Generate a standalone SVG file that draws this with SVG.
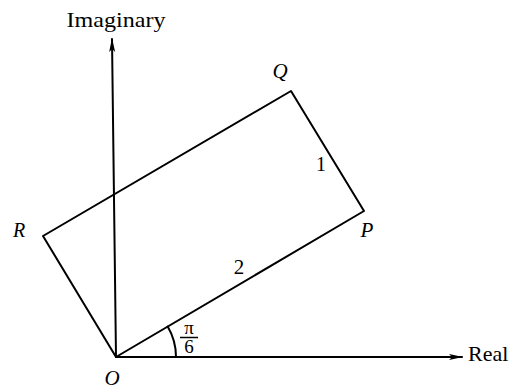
<svg xmlns="http://www.w3.org/2000/svg" width="515" height="390" viewBox="0 0 515 390">
<style>
.ln{stroke:#000;stroke-width:2;fill:none;stroke-linecap:round;stroke-linejoin:round}
.t{font-family:"Liberation Serif","Times New Roman",serif;fill:#000}
.it{font-style:italic}
</style>
<defs>
<marker id="ah" viewBox="0 0 14 8" refX="13" refY="4" markerWidth="14" markerHeight="8" markerUnits="userSpaceOnUse" orient="auto">
<path d="M0,1 L14,4 L0,7 L3,4 Z" fill="#000"/>
</marker>
</defs>
<rect width="515" height="390" fill="#fff"/>
<g id="connectors">
<line class="ln" x1="116" y1="357" x2="462" y2="357" marker-end="url(#ah)"/>
<line class="ln" x1="116" y1="357" x2="112" y2="39" marker-end="url(#ah)"/>
<path class="ln" d="M116,357 L364,211 L291,91 L43,236 Z"/>
<path class="ln" d="M167.7,326.5 A60,60 0 0 1 176,357"/>
</g>
<g id="axis-imaginary"><text class="t" x="116" y="27" font-size="22" text-anchor="middle" textLength="99" lengthAdjust="spacingAndGlyphs">Imaginary</text></g>
<g id="axis-real"><text class="t" x="468" y="361" font-size="22">Real</text></g>
<g id="node-O"><text class="t it" x="112" y="385" font-size="21" text-anchor="middle">O</text></g>
<g id="node-P"><text class="t it" x="367" y="237" font-size="21" text-anchor="middle">P</text></g>
<g id="node-Q"><text class="t it" x="280" y="78" font-size="21" text-anchor="middle">Q</text></g>
<g id="node-R"><text class="t it" x="19" y="237" font-size="20" text-anchor="middle">R</text></g>
<g id="label-1"><text class="t" x="321" y="171" font-size="20" text-anchor="middle">1</text></g>
<g id="label-2"><text class="t" x="239" y="274" font-size="21" text-anchor="middle">2</text></g>
<g id="label-angle">
<text class="t" x="189" y="334" font-size="19" text-anchor="middle">π</text>
<line x1="180" y1="337.5" x2="198" y2="337.5" stroke="#000" stroke-width="1.5"/>
<text class="t" x="189" y="353" font-size="19" text-anchor="middle">6</text>
</g>
</svg>
